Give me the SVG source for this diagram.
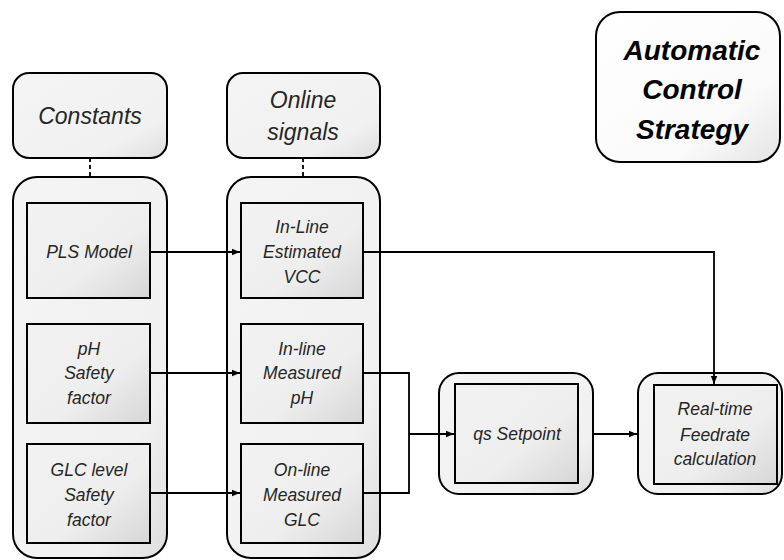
<svg xmlns="http://www.w3.org/2000/svg" width="784" height="560" viewBox="0 0 784 560">
<defs>
<linearGradient id="gIn" x1="0" y1="0" x2="1" y2="1">
<stop offset="0" stop-color="#f2f2f2"/>
<stop offset="0.6" stop-color="#eeeeee"/>
<stop offset="1" stop-color="#d6d6d6"/>
</linearGradient>
<linearGradient id="gOut" x1="0" y1="0" x2="1" y2="1">
<stop offset="0" stop-color="#f4f4f4"/>
<stop offset="0.75" stop-color="#f1f1f1"/>
<stop offset="1" stop-color="#dedede"/>
</linearGradient>
<linearGradient id="gTitle" x1="0" y1="0" x2="1" y2="1">
<stop offset="0" stop-color="#ffffff"/>
<stop offset="0.7" stop-color="#fafafa"/>
<stop offset="1" stop-color="#e4e4e4"/>
</linearGradient>
<marker id="arr" viewBox="0 0 10 10" refX="10" refY="5" markerWidth="4.5" markerHeight="4.5" orient="auto" markerUnits="strokeWidth">
<path d="M0,1 L10,5 L0,9 z" fill="#000"/>
</marker>
</defs>
<style>
.outer{fill:url(#gOut);stroke:#000;stroke-width:2}
.inner{fill:url(#gIn);stroke:#000;stroke-width:2}
.t{font-family:"Liberation Sans",Arial,sans-serif;font-style:italic;fill:#262626;text-anchor:middle}
.s{font-size:17.5px}
.h{font-size:23px}
.b{font-size:28px;font-weight:bold;fill:#000}
.ln{fill:none;stroke:#000;stroke-width:1.8}
.dash{fill:none;stroke:#000;stroke-width:1.8;stroke-dasharray:4,3}
</style>

<g id="title">
<rect x="596" y="12" width="184" height="150" rx="24" fill="url(#gTitle)" stroke="#000" stroke-width="2"/>
<text class="t b" x="692" y="60">Automatic</text>
<text class="t b" x="692" y="99">Control</text>
<text class="t b" x="692" y="139">Strategy</text>
</g>

<g id="constants">
<rect class="outer" x="13" y="73" width="154" height="85" rx="16"/>
<text class="t h" x="90" y="124">Constants</text>
</g>
<g id="online-signals">
<rect class="outer" x="227" y="73" width="153" height="85" rx="16"/>
<text class="t h" x="303" y="108">Online</text>
<text class="t h" x="303" y="140">signals</text>
</g>

<g id="constants-group">
<rect class="outer" x="13" y="177" width="154" height="381" rx="24"/>
</g>
<g id="online-group">
<rect class="outer" x="227" y="177" width="153" height="381" rx="24"/>
</g>

<g id="pls-model">
<rect class="inner" x="27" y="203" width="123" height="95"/>
<text class="t s" x="89" y="258">PLS Model</text>
</g>
<g id="ph-safety">
<rect class="inner" x="27" y="324" width="123" height="99"/>
<text class="t s" x="89" y="355">pH</text>
<text class="t s" x="89" y="379">Safety</text>
<text class="t s" x="89" y="404">factor</text>
</g>
<g id="glc-safety">
<rect class="inner" x="27" y="444" width="123" height="99"/>
<text class="t s" x="89" y="476">GLC level</text>
<text class="t s" x="89" y="501">Safety</text>
<text class="t s" x="89" y="526">factor</text>
</g>

<g id="vcc">
<rect class="inner" x="241" y="203" width="122" height="95"/>
<text class="t s" x="302" y="233">In-Line</text>
<text class="t s" x="302" y="258">Estimated</text>
<text class="t s" x="302" y="283">VCC</text>
</g>
<g id="ph-measured">
<rect class="inner" x="241" y="324" width="122" height="99"/>
<text class="t s" x="302" y="355">In-line</text>
<text class="t s" x="302" y="379">Measured</text>
<text class="t s" x="302" y="404">pH</text>
</g>
<g id="glc-measured">
<rect class="inner" x="241" y="444" width="122" height="99"/>
<text class="t s" x="302" y="476">On-line</text>
<text class="t s" x="302" y="501">Measured</text>
<text class="t s" x="302" y="526">GLC</text>
</g>

<g id="qs-setpoint">
<rect class="outer" x="439" y="373" width="154" height="121" rx="20"/>
<rect class="inner" x="455" y="384" width="123" height="99"/>
<text class="t s" x="517" y="440">qs Setpoint</text>
</g>

<g id="feedrate">
<rect class="outer" x="638" y="373" width="144" height="121" rx="20"/>
<rect class="inner" x="654" y="385" width="123" height="99"/>
<text class="t s" x="715" y="415">Real-time</text>
<text class="t s" x="715" y="441">Feedrate</text>
<text class="t s" x="715" y="465">calculation</text>
</g>

<g id="connectors">
<line class="dash" x1="90" y1="158" x2="90" y2="177"/>
<line class="dash" x1="303" y1="158" x2="303" y2="177"/>
<line class="ln" x1="150" y1="252" x2="240" y2="252" marker-end="url(#arr)"/>
<line class="ln" x1="150" y1="373" x2="240" y2="373" marker-end="url(#arr)"/>
<line class="ln" x1="150" y1="493" x2="240" y2="493" marker-end="url(#arr)"/>
<polyline class="ln" points="363,252 714,252 714,384" marker-end="url(#arr)"/>
<polyline class="ln" points="363,373 409,373 409,493 363,493"/>
<line class="ln" x1="409" y1="434" x2="454" y2="434" marker-end="url(#arr)"/>
<line class="ln" x1="593" y1="434" x2="637" y2="434" marker-end="url(#arr)"/>
</g>
</svg>
